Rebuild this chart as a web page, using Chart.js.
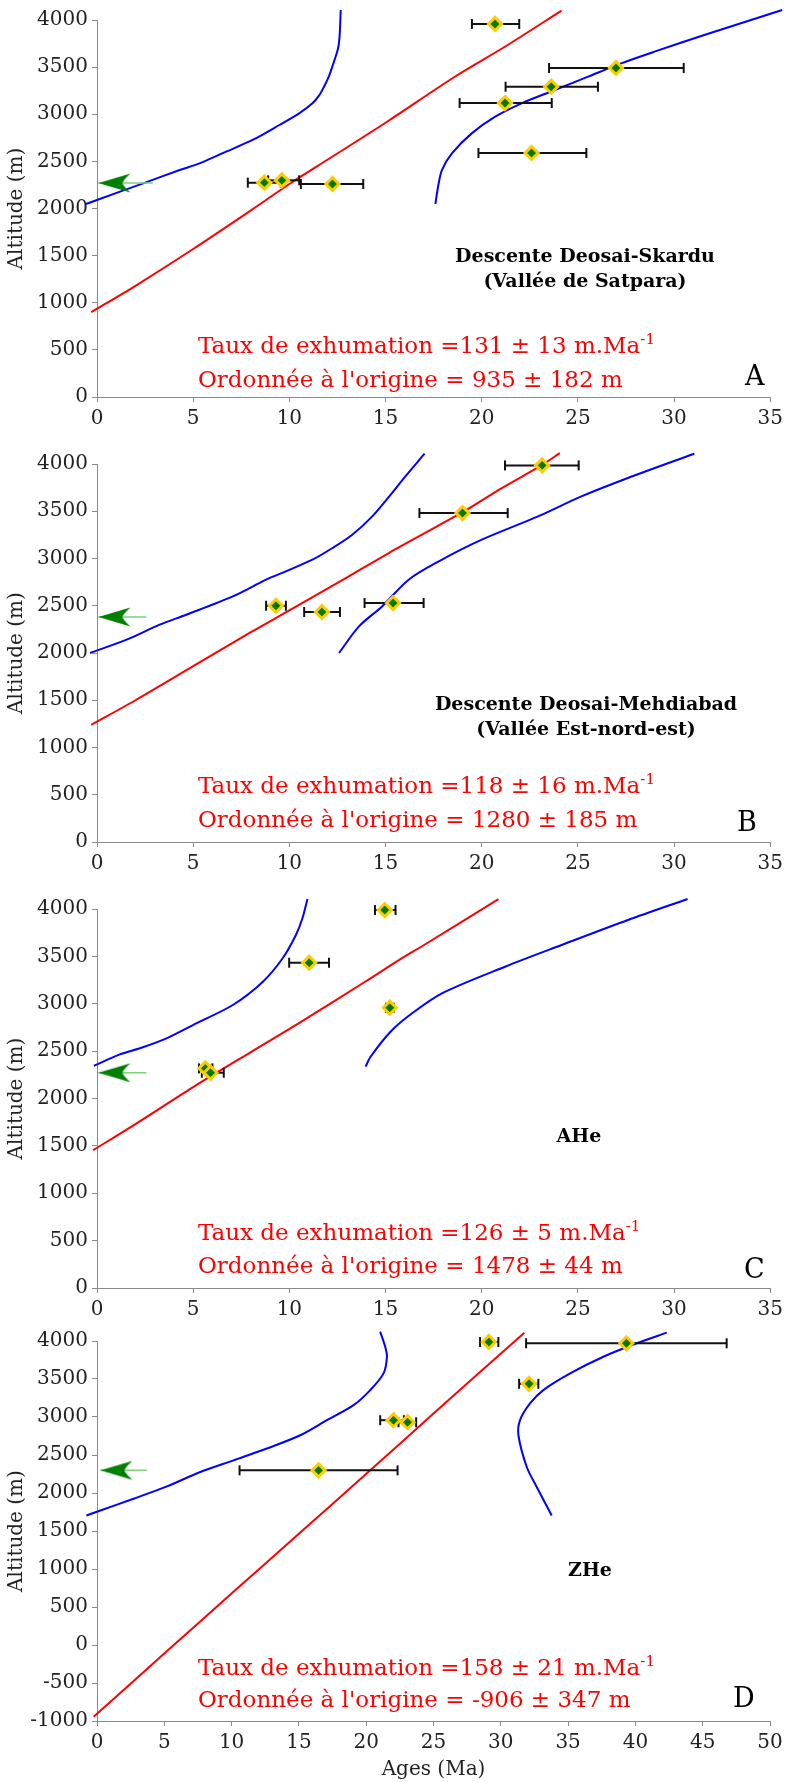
<!DOCTYPE html>
<html>
<head>
<meta charset="utf-8">
<script src="https://cdn.jsdelivr.net/npm/chart.js@4.4.1/dist/chart.umd.min.js"></script>
<style>
  body { margin: 0; background: #fff; }
  #page { position: relative; width: 788px; height: 1782px; overflow: hidden; font-family: "DejaVu Serif", serif; }
  canvas { position: absolute; left: 0; }
  .eq { position: absolute; left: 198px; color: #ff0000; font-size: 23px; line-height: 1; white-space: nowrap; }
  .sup { position: relative; top: -9px; font-size: 15px; }
  .ttl { position: absolute; width: 400px; text-align: center; font-weight: bold; font-size: 19px; line-height: 25px; white-space: nowrap; color: #000; }
  .tag { position: absolute; font-size: 27px; line-height: 1; color: #000; }
</style>
</head>
<body>
<div id="page">
  <canvas id="chartA" width="788" height="440" style="top:0px"></canvas>
  <canvas id="chartB" width="788" height="445" style="top:440px"></canvas>
  <canvas id="chartC" width="788" height="446" style="top:885px"></canvas>
  <canvas id="chartD" width="788" height="461" style="top:1321px"></canvas>

  <div class="ttl" style="left:385px; top:243px">Descente Deosai-Skardu<br>(Vallée de Satpara)</div>
  <div class="eq" style="top:334px">Taux de exhumation =131 ± 13 m.Ma<span class="sup">-1</span></div>
  <div class="eq" style="top:368px">Ordonnée à l'origine = 935 ± 182 m</div>
  <div class="tag" style="left:745px; top:362px">A</div>

  <div class="ttl" style="left:386px; top:691px">Descente Deosai-Mehdiabad<br>(Vallée Est-nord-est)</div>
  <div class="eq" style="top:774px">Taux de exhumation =118 ± 16 m.Ma<span class="sup">-1</span></div>
  <div class="eq" style="top:808px">Ordonnée à l'origine = 1280 ± 185 m</div>
  <div class="tag" style="left:737px; top:808px">B</div>

  <div class="ttl" style="left:379px; top:1123px">AHe</div>
  <div class="eq" style="top:1221px">Taux de exhumation =126 ± 5 m.Ma<span class="sup">-1</span></div>
  <div class="eq" style="top:1254px">Ordonnée à l'origine = 1478 ± 44 m</div>
  <div class="tag" style="left:744px; top:1255px">C</div>

  <div class="ttl" style="left:390px; top:1557px">ZHe</div>
  <div class="eq" style="top:1656px">Taux de exhumation =158 ± 21 m.Ma<span class="sup">-1</span></div>
  <div class="eq" style="top:1688px">Ordonnée à l'origine = -906 ± 347 m</div>
  <div class="tag" style="left:733px; top:1684px">D</div>
</div>

<script>
// ---- panel A : Deosai-Skardu ----
const agesA = [8.70, 9.61, 12.24, 20.69, 26.98, 23.61, 21.21, 22.59];
const altsA = [2274, 2299, 2260, 3958, 3491, 3292, 3119, 2589];
const errLoA = [7.84, 8.90, 10.60, 19.49, 23.50, 21.24, 18.85, 19.83];
const errHiA = [9.55, 10.51, 13.84, 21.95, 30.50, 26.04, 23.64, 25.44];
const fitA = [[-0.3, 900], [2, 1180], [5, 1570], [8, 1980], [10, 2260], [12, 2520], [15, 2910], [18.6, 3398], [21.2, 3716], [24.15, 4100]];
const envLoA = [[-0.57, 2048], [0, 2090], [2.4, 2267], [4.3, 2408], [5.33, 2479], [6.71, 2603], [8.09, 2727], [9.48, 2886], [10.51, 3010], [11.2, 3116], [11.55, 3200], [11.8, 3292], [12.05, 3400], [12.23, 3504], [12.42, 3620], [12.55, 3716], [12.62, 3858], [12.67, 4106]];
const envHiA = [[17.59, 2048], [17.73, 2231], [17.93, 2408], [18.45, 2585], [19.48, 2797], [20.7, 2974], [22.07, 3116], [23.8, 3257], [25.53, 3399], [27.25, 3540], [28.98, 3664], [31.57, 3841], [35.62, 4106]];
const arrowA = [2270, 0.07, 2.9]; // altitude, tip age, tail age

// ---- panel B : Deosai-Mehdiabad ----
const agesB = [9.30, 11.69, 15.39, 23.14, 19.00];
const altsB = [2500, 2434, 2529, 3985, 3481];
const errLoB = [8.79, 10.77, 13.91, 21.21, 16.76];
const errHiB = [9.82, 12.63, 16.98, 25.04, 21.35];
const fitB = [[-0.3, 1240], [2, 1500], [5, 1860], [8, 2220], [10, 2450], [13, 2800], [15.17, 3058], [19, 3490], [21, 3740], [23.1, 3985], [24.06, 4115]];
const envLoB = [[-0.36, 2000], [1.54, 2141], [3.26, 2300], [4.64, 2405], [7.06, 2599], [8.79, 2776], [9.82, 2864], [11.2, 2987], [12.24, 3111], [13.27, 3252], [14.31, 3446], [15.17, 3651], [16.03, 3869], [17.03, 4109]];
const envHiB = [[12.58, 2000], [13.62, 2282], [14.82, 2493], [16.2, 2776], [17.77, 2970], [20.0, 3199], [22.93, 3446], [25.18, 3657], [27.6, 3852], [31.05, 4109]];
const arrowB = [2381, 0.07, 2.57];

// ---- panel C : AHe ----
const agesC = [14.96, 11.03, 15.22, 5.63, 5.90];
const altsC = [3989, 3433, 2958, 2318, 2272];
const errLoC = [14.45, 9.99, 15.02, 5.30, 5.45];
const errHiC = [15.52, 12.06, 15.42, 6.00, 6.59];
const fitC = [[-0.2, 1455], [2, 1730], [5, 2120], [8, 2490], [10.5, 2795], [14, 3240], [15.69, 3460], [17, 3620], [20.87, 4105]];
const envLoC = [[-0.16, 2346], [1.19, 2466], [2.23, 2530], [3.61, 2635], [5.16, 2793], [7.06, 2987], [8.61, 3230], [9.65, 3480], [10.34, 3726], [10.68, 3902], [10.94, 4106]];
const envHiC = [[13.96, 2336], [14.22, 2441], [15.26, 2705], [16.38, 2899], [17.93, 3110], [21.21, 3391], [24.15, 3620], [27.6, 3884], [30.7, 4106]];
const arrowC = [2272, 0.07, 2.57];

// ---- panel D : ZHe ----
const agesD = [16.46, 22.03, 23.07, 29.11, 32.10, 39.33];
const altsD = [2298, 2958, 2931, 3987, 3437, 3970];
const errLoD = [10.59, 21.04, 22.40, 28.46, 31.36, 31.88];
const errHiD = [22.33, 22.80, 23.71, 29.82, 32.79, 46.78];
const fitD = [[-0.25, -945], [5.2, -80], [10.14, 700], [15.1, 1480], [20.05, 2260], [25, 3045], [31.75, 4110]];
const envLoD = [[-0.79, 1704], [0.25, 1770], [2.72, 1925], [5.2, 2087], [7.67, 2276], [10.14, 2430], [12.62, 2585], [15.1, 2760], [17.08, 2958], [19.06, 3156], [20.3, 3354], [21.29, 3574], [21.54, 3793], [21.41, 3925], [21.04, 4123]];
const envHiD = [[33.78, 1704], [32.67, 2078], [31.93, 2342], [31.31, 2760], [31.43, 2958], [32.17, 3178], [33.16, 3354], [35.15, 3574], [37.62, 3793], [40.1, 3970], [42.33, 4110]];
const arrowD = [2298, 0.25, 3.71];

const AXIS_GREY = '#8a8a8a';
const SERIF = '"DejaVu Serif", serif';

// dart-shaped arrow head, tip sits at the image centre
function arrowHead() {
  const c = document.createElement('canvas');
  c.width = 70;
  c.height = 22;
  const g = c.getContext('2d');
  g.fillStyle = '#008000';
  g.beginPath();
  g.moveTo(35, 11);
  g.quadraticCurveTo(52, 6, 67, 1.5);
  g.quadraticCurveTo(60, 8, 59, 11);
  g.quadraticCurveTo(60, 14, 67, 20.5);
  g.quadraticCurveTo(52, 16, 35, 11);
  g.closePath();
  g.fill();
  return c;
}
const HEAD = arrowHead();

const pts = arr => arr.map(([x, y]) => ({x, y}));

function curve(arr, color, order) {
  return {
    data: pts(arr), showLine: true, borderColor: color, borderWidth: 2,
    pointRadius: 0, tension: 0.3, clip: false, order
  };
}

function buildPanel(id, p) {
  const datasets = [];

  datasets.push({
    data: p.ages.map((x, i) => ({x, y: p.alts[i]})),
    pointStyle: 'rectRot', pointRadius: 6.5, pointBackgroundColor: '#007a00',
    pointBorderColor: '#ffcc00', pointBorderWidth: 3, clip: false, order: 0
  });

  const [ay, tip, tail] = p.arrow;
  datasets.push({
    data: [{x: tip, y: ay}, {x: tail, y: ay}], showLine: true,
    borderColor: '#7fcf7f', borderWidth: 1.5,
    pointStyle: ctx => ctx.dataIndex === 0 ? HEAD : false,
    pointRadius: ctx => ctx.dataIndex === 0 ? 10 : 0,
    clip: false, order: 1
  });

  p.ages.forEach((x, i) => datasets.push({
    data: [{x: p.errLo[i], y: p.alts[i]}, {x: p.errHi[i], y: p.alts[i]}],
    showLine: true, borderColor: '#111', borderWidth: 2,
    pointStyle: 'line', pointRotation: 90, pointRadius: 5,
    pointBorderWidth: 2, pointBorderColor: '#111', clip: false, order: 2
  }));

  datasets.push(curve(p.fit, '#ff0000', 3));
  datasets.push(curve(p.envLo, '#0000ff', 4));
  datasets.push(curve(p.envHi, '#0000ff', 4));

  const tickFont = {family: SERIF, size: 20};

  new Chart(document.getElementById(id).getContext('2d'), {
    type: 'scatter',
    data: {datasets},
    options: {
      responsive: false,
      animation: false,
      events: [],
      layout: {padding: {top: p.padTop, right: 788 - p.right, left: 0, bottom: 0}},
      plugins: {legend: {display: false}, tooltip: {enabled: false}},
      scales: {
        x: {
          type: 'linear', min: 0, max: p.xMax,
          ticks: {stepSize: 5, font: tickFont, color: '#222', padding: 5, callback: v => String(v)},
          grid: {drawOnChartArea: false, drawTicks: true, tickLength: 5, color: AXIS_GREY},
          border: {color: AXIS_GREY},
          title: {
            display: !!p.xTitle, text: p.xTitle || '', color: '#222',
            font: {family: SERIF, size: 20}, padding: {top: 2, bottom: 0}
          },
          afterFit: s => { s.height = p.axisH; }
        },
        y: {
          type: 'linear', min: p.yMin, max: 4000,
          ticks: {stepSize: 500, font: tickFont, color: '#222', padding: 4, callback: v => String(v)},
          grid: {drawOnChartArea: false, drawTicks: true, tickLength: 5, color: AXIS_GREY},
          border: {color: AXIS_GREY},
          title: {
            display: true, text: 'Altitude (m)', color: '#222',
            font: {family: SERIF, size: 20}, padding: {top: 5, bottom: 0}
          },
          afterFit: s => { s.width = 97; }
        }
      }
    }
  });
}

buildPanel('chartA', {ages: agesA, alts: altsA, errLo: errLoA, errHi: errHiA, fit: fitA, envLo: envLoA, envHi: envHiA, arrow: arrowA,
  padTop: 20, right: 773, xMax: 35, yMin: 0, axisH: 43});
buildPanel('chartB', {ages: agesB, alts: altsB, errLo: errLoB, errHi: errHiB, fit: fitB, envLo: envLoB, envHi: envHiB, arrow: arrowB,
  padTop: 24, right: 773, xMax: 35, yMin: 0, axisH: 43});
buildPanel('chartC', {ages: agesC, alts: altsC, errLo: errLoC, errHi: errHiC, fit: fitC, envLo: envLoC, envHi: envHiC, arrow: arrowC,
  padTop: 24, right: 773, xMax: 35, yMin: 0, axisH: 43});
buildPanel('chartD', {ages: agesD, alts: altsD, errLo: errLoD, errHi: errHiD, fit: fitD, envLo: envLoD, envHi: envHiD, arrow: arrowD,
  padTop: 20, right: 770, xMax: 50, yMin: -1000, axisH: 61, xTitle: 'Ages (Ma)'});
</script>
</body>
</html>
